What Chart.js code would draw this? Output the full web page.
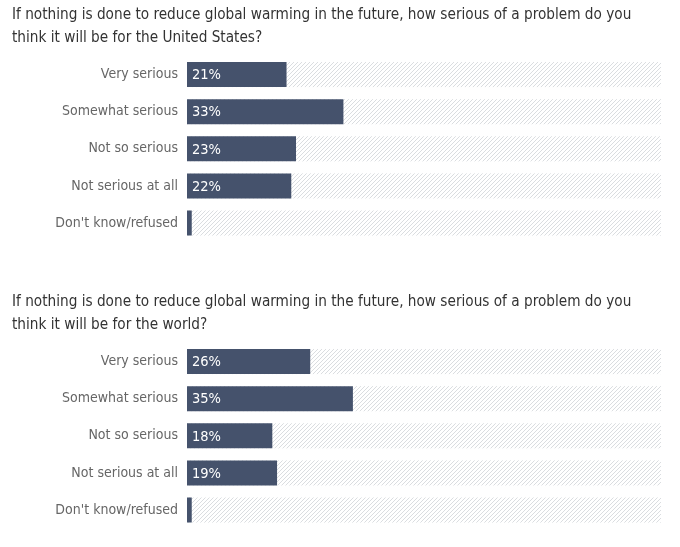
<!DOCTYPE html>
<html>
<head>
<meta charset="utf-8">
<script src="https://cdn.jsdelivr.net/npm/chart.js@4.4.1/dist/chart.umd.min.js"></script>
<style>
  html, body { margin: 0; padding: 0; background: #fff; }
  .panel { position: absolute; left: 0; width: 680px; height: 259px; }
  #p1 { top: 0; }
  #p2 { top: 287px; }
</style>
</head>
<body>
<div class="panel" id="p1"><canvas id="chartUS"></canvas></div>
<div class="panel" id="p2"><canvas id="chartWorld"></canvas></div>
<script>
const categories = ['Very serious', 'Somewhat serious', 'Not so serious', 'Not serious at all', "Don't know/refused"];
const usValues = [21, 33, 23, 22, 1];
const worldValues = [26, 35, 18, 19, 1];
const titleUS = ['If nothing is done to reduce global warming in the future, how serious of a problem do you', 'think it will be for the United States?'];
const titleWorld = ['If nothing is done to reduce global warming in the future, how serious of a problem do you', 'think it will be for the world?'];

const FONT = '"Liberation Sans Narrow", "DejaVu Sans Condensed", "Roboto", sans-serif';

function makeHatch() {
    const c = document.createElement('canvas');
    c.width = 4; c.height = 4;
    const g = c.getContext('2d');
    g.strokeStyle = '#dadde0';
    g.lineWidth = 1;
    g.beginPath();
    g.moveTo(0, 4); g.lineTo(4, 0);
    g.moveTo(-1, 1); g.lineTo(1, -1);
    g.moveTo(3, 5); g.lineTo(5, 3);
    g.stroke();
    return g.createPattern(c, 'repeat');
}

// hatched track behind each bar, 0 to 100 on the x scale
const trackPlugin = {
    id: 'track',
    beforeDatasetsDraw(chart) {
        const { ctx, scales: { x } } = chart;
        const meta = chart.getDatasetMeta(0);
        ctx.save();
        ctx.fillStyle = makeHatch();
        meta.data.forEach(bar => {
            const x0 = x.getPixelForValue(0);
            const x1 = x.getPixelForValue(100);
            ctx.fillRect(x0, bar.y - bar.height / 2, x1 - x0, bar.height);
        });
        ctx.restore();
    }
};

const valueLabels = {
    id: 'valueLabels',
    afterDatasetsDraw(chart) {
        const { ctx } = chart;
        const meta = chart.getDatasetMeta(0);
        const data = chart.data.datasets[0].data;
        ctx.save();
        ctx.fillStyle = '#ffffff';
        ctx.font = '14.5px ' + FONT;
        ctx.textAlign = 'left';
        ctx.textBaseline = 'middle';
        meta.data.forEach((bar, i) => {
            if (data[i] < 5) return;
            ctx.fillText(data[i] + '%', bar.base + 5, bar.y + 1);
        });
        ctx.restore();
    }
};

const chartConfig = (title, values) => ({
    type: 'bar',
    data: {
        labels: categories,
        datasets: [{
            data: values,
            backgroundColor: '#45526c',
            barPercentage: 25 / 37,
            categoryPercentage: 1,
        }],
    },
    options: {
        indexAxis: 'y',
        responsive: true,
        maintainAspectRatio: false,
        animation: false,
        layout: { padding: { left: 12, right: 19, top: 0, bottom: 4 } },
        plugins: {
            legend: { display: false },
            tooltip: { enabled: false },
            title: {
                display: true,
                text: title,
                align: 'start',
                color: '#333333',
                font: { family: FONT, size: 15.2, weight: 'normal', lineHeight: 1.53 },
                padding: { top: 3, bottom: 6.5 },
            },
        },
        scales: {
            x: { display: false, min: 0, max: 100 },
            y: {
                grid: { display: false, drawTicks: false },
                border: { display: false },
                ticks: { color: '#666666', padding: 9, font: { family: FONT, size: 14 } },
                afterFit: (scale) => { scale.width = 175; },
            },
        },
    },
    plugins: [trackPlugin, valueLabels],
});

new Chart(document.getElementById('chartUS'), chartConfig(titleUS, usValues));
new Chart(document.getElementById('chartWorld'), chartConfig(titleWorld, worldValues));
</script>
</body>
</html>
